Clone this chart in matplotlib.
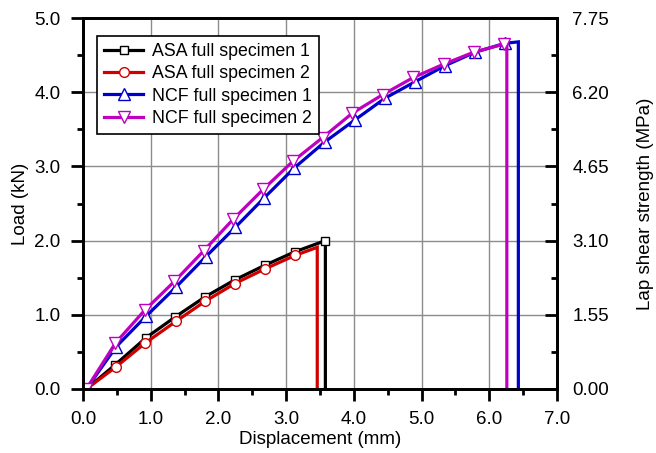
import matplotlib.pyplot as plt
from matplotlib.ticker import MultipleLocator, FormatStrFormatter

plt.rcParams['font.family'] = ['Liberation Sans', 'DejaVu Sans']

# --- Data (displacement mm, load kN) ---
asa1_x = [0.05, 0.48, 0.93, 1.36, 1.80, 2.24, 2.69, 3.13, 3.58]
asa1_y = [0.00, 0.33, 0.69, 0.97, 1.24, 1.47, 1.67, 1.85, 2.00]

asa2_x = [0.05, 0.49, 0.92, 1.37, 1.80, 2.24, 2.69, 3.13, 3.46]
asa2_y = [0.00, 0.30, 0.62, 0.91, 1.18, 1.42, 1.62, 1.80, 1.91]

ncf1_x = [0.05, 0.49, 0.93, 1.37, 1.81, 2.25, 2.68, 3.12, 3.57, 4.02,
          4.46, 4.90, 5.35, 5.79, 6.23, 6.43]
ncf1_y = [0.00, 0.57, 0.98, 1.37, 1.78, 2.18, 2.58, 2.98, 3.33, 3.63,
          3.92, 4.14, 4.36, 4.54, 4.66, 4.68]

ncf2_x = [0.05, 0.48, 0.91, 1.35, 1.78, 2.22, 2.66, 3.10, 3.54, 3.98,
          4.43, 4.88, 5.33, 5.77, 6.22, 6.26]
ncf2_y = [0.00, 0.62, 1.06, 1.45, 1.86, 2.29, 2.69, 3.07, 3.39, 3.72,
          3.97, 4.20, 4.38, 4.54, 4.65, 4.66]

labels = ['ASA full specimen 1', 'ASA full specimen 2',
          'NCF full specimen 1', 'NCF full specimen 2']

# which points carry a marker (the last point of some curves has none)
asa1_marks = list(range(len(asa1_x)))
asa2_marks = list(range(len(asa2_x) - 1))
ncf1_marks = list(range(len(ncf1_x) - 1))
ncf2_marks = list(range(len(ncf2_x) - 1))

MPA_PER_KN = 1.55
FS = 13.5

fig = plt.figure(figsize=(6.56, 4.53), dpi=100)
ax = fig.add_axes([0.1265, 0.1413, 0.7225, 0.8187])

series = [
    (asa1_x, asa1_y, asa1_marks, 'black', 's', 6),
    (asa2_x, asa2_y, asa2_marks, '#d00000', 'o', 7),
    (ncf1_x, ncf1_y, ncf1_marks, '#0000cc', '^', 9),
    (ncf2_x, ncf2_y, ncf2_marks, '#c000c0', 'v', 9),
]

for (xs, ys, marks, col, mk, ms), lab in zip(series, labels):
    # curve plus the vertical drop at failure
    px = xs + [xs[-1]]
    py = ys + [0.0]
    ax.plot(px, py, color=col, lw=2.3, marker=mk, markevery=marks,
            ms=ms, mfc='white', mec=col, mew=1.0, label=lab,
            solid_joinstyle='miter')

ax.set_xlim(0, 7.0)
ax.set_ylim(0, 5.0)
ax.xaxis.set_major_locator(MultipleLocator(1.0))
ax.xaxis.set_minor_locator(MultipleLocator(0.5))
ax.yaxis.set_major_locator(MultipleLocator(1.0))
ax.yaxis.set_minor_locator(MultipleLocator(0.5))
ax.xaxis.set_major_formatter(FormatStrFormatter('%.1f'))
ax.yaxis.set_major_formatter(FormatStrFormatter('%.1f'))
ax.grid(True, which='major', color='#8c8c8c', lw=1.0)
ax.set_axisbelow(True)

for s in ax.spines.values():
    s.set_linewidth(2.0)
ax.tick_params(which='major', direction='out', length=8.6, width=2,
               labelsize=FS, pad=7.5, top=False, right=False)
ax.tick_params(which='minor', direction='out', length=4.5, width=2,
               top=False, right=False)

ax.set_xlabel('Displacement (mm)', fontsize=FS, labelpad=2)
ax.set_ylabel('Load (kN)', fontsize=FS, labelpad=4)

ax2 = ax.twinx()
ax2.set_ylim(0, 5.0 * MPA_PER_KN)
ax2.yaxis.set_major_locator(MultipleLocator(MPA_PER_KN))
ax2.yaxis.set_minor_locator(MultipleLocator(MPA_PER_KN / 2))
ax2.yaxis.set_major_formatter(FormatStrFormatter('%.2f'))
ax2.tick_params(which='major', direction='in', length=8.6, width=2,
                labelsize=FS, pad=11)
ax2.tick_params(which='minor', direction='in', length=4.5, width=2)
for s in ax2.spines.values():
    s.set_linewidth(2.0)
ax2.set_ylabel('Lap shear strength (MPa)', fontsize=FS, labelpad=20)

leg = ax.legend(loc='upper left', fontsize=12.8, frameon=True, fancybox=False,
                edgecolor='black', framealpha=1, handlelength=2.2,
                borderpad=0.4, labelspacing=0.3, handletextpad=0.5,
                bbox_to_anchor=(0.011, 0.976))
leg.get_frame().set_linewidth(1.2)

fig.savefig('out.png', dpi=100)
